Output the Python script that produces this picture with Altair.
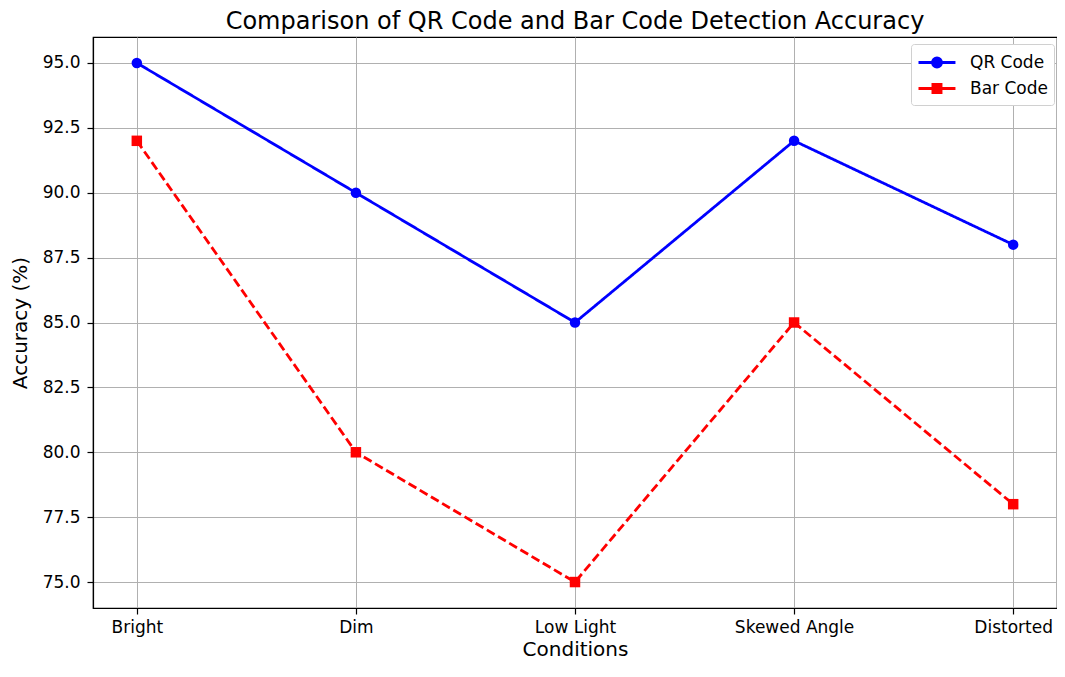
import altair as alt
import pandas as pd

conditions = ["Bright", "Dim", "Low Light", "Skewed Angle", "Distorted"]
qr_code = [95, 90, 85, 92, 88]
bar_code = [92, 80, 75, 85, 78]
series_names = ["QR Code", "Bar Code"]
series_colors = ["#0000ff", "#ff0000"]
y_ticks = [75.0, 77.5, 80.0, 82.5, 85.0, 87.5, 90.0, 92.5, 95.0]

rows = []
for c, q, b in zip(conditions, qr_code, bar_code):
    rows.append({"Condition": c, "Accuracy": q, "Series": "QR Code"})
    rows.append({"Condition": c, "Accuracy": b, "Series": "Bar Code"})
df = pd.DataFrame(rows)

font = "DejaVu Sans"
x_enc = alt.X("Condition:N", sort=conditions,
              scale=alt.Scale(type="point", padding=0.2),
              axis=alt.Axis(title="Conditions", labelAngle=0))
y_enc = alt.Y("Accuracy:Q", scale=alt.Scale(domain=[74, 96], nice=False, zero=False),
              axis=alt.Axis(title="Accuracy (%)", values=y_ticks, format=".1f"))


def series_layers(name, color, dash, shape):
    base = alt.Chart(df).transform_filter(alt.datum.Series == name)
    line = base.mark_line(strokeWidth=2.8, color=color, strokeDash=dash).encode(x=x_enc, y=y_enc)
    pts = base.mark_point(filled=True, opacity=1, size=110, shape=shape, color=color).encode(
        x=x_enc, y=y_enc)
    return [line, pts]


# legend glyphs: a line segment with the marker in its middle
legend_glyphs = [
    "M-1,0H2.36M1.09,0A0.41,0.41 0 1,1 0.27,0A0.41,0.41 0 1,1 1.09,0Z",
    "M-1,0H2.36M0.31,-0.37H1.05V0.37H0.31Z",
]
legend = alt.Legend(title=None, orient="none", legendX=818, legendY=7,
                    fillColor="white", strokeColor="#d0d0d0", padding=6,
                    cornerRadius=3, symbolStrokeWidth=2.8, symbolSize=484,
                    symbolOpacity=1, labelFontSize=17, labelFont=font,
                    labelColor="black", rowPadding=3, labelOffset=28)

legend_layer = alt.Chart(df).transform_filter("false").mark_point(filled=True).encode(
    x=x_enc, y=y_enc,
    fill=alt.Fill("Series:N", scale=alt.Scale(domain=series_names, range=series_colors),
                  sort=series_names, legend=legend),
    stroke=alt.Stroke("Series:N", scale=alt.Scale(domain=series_names, range=series_colors),
                      sort=series_names, legend=legend),
    shape=alt.Shape("Series:N", sort=series_names,
                    scale=alt.Scale(domain=series_names, range=legend_glyphs),
                    legend=legend),
)

layers = (series_layers("QR Code", series_colors[0], [1, 0], "circle")
          + series_layers("Bar Code", series_colors[1], [9, 4], "square")
          + [legend_layer])

chart = alt.layer(*layers).properties(
    width=964, height=571,
    title=alt.Title("Comparison of QR Code and Bar Code Detection Accuracy",
                    font=font, fontSize=24, fontWeight="normal", color="black", offset=3),
    autosize=alt.AutoSizeParams(type="none"),
    padding={"left": 85, "top": 29, "right": 0, "bottom": 53},
).configure_view(stroke="black", strokeWidth=1.2).configure_axis(
    grid=True, gridColor="#b0b0b0", gridWidth=1,
    domainColor="black", domainWidth=1.2, tickColor="black", tickSize=6, tickWidth=1.2,
    labelFont=font, labelFontSize=17, labelColor="black", labelPadding=7,
    titleFont=font, titleFontSize=20, titleFontWeight="normal", titleColor="black",
).configure_axisY(titlePadding=12).configure_axisX(titlePadding=4, labelPadding=5)

chart.save("out.html", embed_options={"renderer": "svg", "actions": False})
